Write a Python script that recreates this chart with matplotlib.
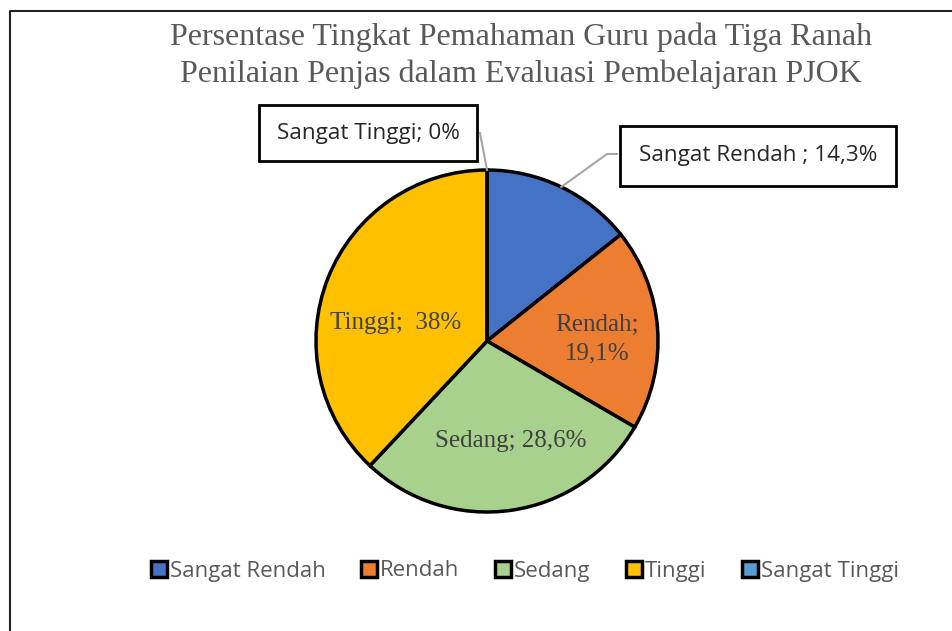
import numpy as np
import matplotlib
matplotlib.use("Agg")
import matplotlib.pyplot as plt

categories = ["Sangat Rendah", "Rendah", "Sedang", "Tinggi", "Sangat Tinggi"]
values = [14.3, 19.1, 28.6, 38.0, 0.0]
value_labels = ["14,3%", "19,1%", "28,6%", "38%", "0%"]
colors = ["#4472C4", "#ED7D31", "#A9D18E", "#FFC000", "#5B9BD5"]
title = "Persentase Tingkat Pemahaman Guru pada Tiga Ranah\nPenilaian Penjas dalam Evaluasi Pembelajaran PJOK"

W, H = 952, 631
fig = plt.figure(figsize=(W / 100, H / 100), dpi=100)
ax = fig.add_axes([0, 0, 1, 1])

def Y(y):
    return H - y

cx, cy, r = 487, Y(341), 171
wedges, _ = ax.pie(values, colors=colors, startangle=90, counterclock=False,
                   center=(cx, cy), radius=r, frame=True,
                   wedgeprops=dict(edgecolor="black", linewidth=2.5))
ax.set_xlim(0, W)
ax.set_ylim(0, H)
ax.axis("off")

# frame of chart area
ax.plot([10, 10, W], [0, Y(11), Y(11)], color="#222222", lw=1.5, clip_on=False)

ax.text(521, Y(56), title, ha="center", va="center", fontsize=23,
        family="Liberation Serif", color="#595959", linespacing=1.32)

serif = dict(family="Liberation Serif", color="#404040", fontsize=18,
             ha="center", va="center")
ax.text(396, Y(323), "Tinggi;  " + value_labels[3], **serif)
ax.text(597, Y(339), "Rendah;\n" + value_labels[1], linespacing=1.4, **serif)
ax.text(511, Y(441), "Sedang; " + value_labels[2], **serif)

# callout labels with leader lines
def edge_point(i):
    start = 90 - sum(values[:i]) * 3.6
    mid = np.deg2rad(start - values[i] * 3.6 / 2)
    return cx + r * np.cos(mid), cy + r * np.sin(mid)

sans = dict(family="Open Sans", color="#262626", fontsize=16.2, ha="center", va="center")

px, py = edge_point(0)
ax.plot([px, 607, 617], [py, Y(154), Y(154)], color="#A6A6A6", lw=1.5)
ax.text(758, Y(156), categories[0] + " ; " + value_labels[0],
        bbox=dict(boxstyle="square,pad=0.85", facecolor="white", edgecolor="black", lw=2),
        **sans)

px, py = edge_point(4)
ax.plot([px, 480], [py, Y(133)], color="#A6A6A6", lw=1.5)
ax.text(368, Y(133), categories[4] + "; " + value_labels[4],
        bbox=dict(boxstyle="square,pad=0.78", facecolor="white", edgecolor="black", lw=2),
        **sans)

leg = ax.legend(wedges, categories, loc="center", bbox_to_anchor=(525 / W, 1 - 571 / H),
                ncol=5, frameon=False, handlelength=0.7, handleheight=0.7,
                handletextpad=0.15, columnspacing=1.6,
                prop=dict(family="Open Sans", size=16))
for t in leg.get_texts():
    t.set_color("#595959")
for h in leg.legend_handles:
    h.set_linewidth(2.5)

fig.savefig("out.png", dpi=100)
